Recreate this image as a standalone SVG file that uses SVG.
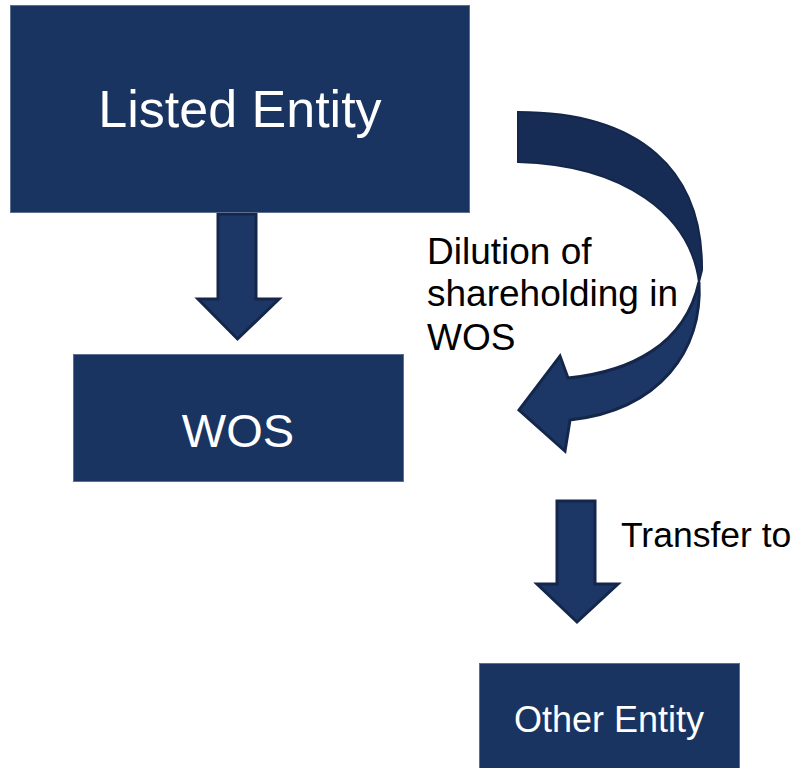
<svg xmlns="http://www.w3.org/2000/svg" width="803" height="768" viewBox="0 0 803 768">
  <style>
    .box { fill: #1a3461; stroke: #5c6f91; stroke-width: 1; }
    .box-text { fill: #ffffff; font-family: "Liberation Sans", Arial, sans-serif; text-anchor: middle; }
    .label { fill: #000000; font-family: "Liberation Sans", Arial, sans-serif; font-size: 37px; }
    .label-small { font-size: 35.5px; }
    .arrow { fill: #1c3765; stroke: #14274b; stroke-width: 3; stroke-linejoin: miter; }
    .arrow-back { fill: #172c55; stroke: #14274b; stroke-width: 2; }
  </style>

  <rect width="803" height="768" fill="#ffffff"/>

  <!-- connectors -->
  <g id="connectors">
    <!-- Listed Entity -> WOS -->
    <path class="arrow" d="M218,214 L256,214 L256,299 L279,299 L237.5,339 L198,299 L218,299 Z"/>
    <!-- curved arrow: back half of the band -->
    <path class="arrow-back" d="M518,112 C640,112 703,170 702,270 L699,282 C690,215 625,165 518,162 Z"/>
    <!-- curved arrow: front half with head -->
    <path class="arrow" d="M699,282 C703,350 660,410 570,420 L565,451 L519,410 L560,356 L568,378 C630,372 685,345 699,282 Z"/>
    <!-- WOS -> Other Entity -->
    <path class="arrow" d="M557,501 L595,501 L595,584 L618,584 L577,622 L537,584 L557,584 Z"/>
  </g>

  <g id="listed-entity">
    <rect class="box" x="10.5" y="5.5" width="459" height="207"/>
    <text class="box-text" x="240" y="127" font-size="52">Listed Entity</text>
  </g>

  <g id="wos">
    <rect class="box" x="73.5" y="354.5" width="330" height="127"/>
    <text class="box-text" x="238" y="447" font-size="47">WOS</text>
  </g>

  <g id="other-entity">
    <rect class="box" x="479.5" y="663.5" width="260" height="110"/>
    <text class="box-text" x="609" y="732" font-size="36">Other Entity</text>
  </g>

  <g id="dilution-label">
    <text class="label" x="427" y="264">Dilution of</text>
    <text class="label" x="427" y="306">shareholding in</text>
    <text class="label" x="427" y="350">WOS</text>
  </g>

  <g id="transfer-label">
    <text class="label label-small" x="621" y="547">Transfer to</text>
  </g>
</svg>
